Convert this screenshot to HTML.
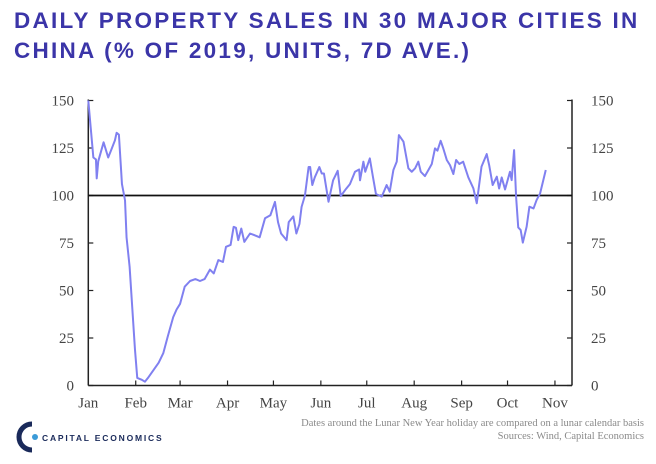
<!DOCTYPE html>
<html><head><meta charset="utf-8"><style>
body{margin:0;background:#fff;width:656px;height:464px;overflow:hidden;position:relative;font-family:"Liberation Sans",sans-serif}
#title{position:absolute;left:14px;top:6px;color:#3b35a8;font-weight:bold;font-size:22.5px;line-height:30px;letter-spacing:2.25px}
svg{position:absolute;left:0;top:0}
</style></head><body>
<div id="title">DAILY PROPERTY SALES IN 30 MAJOR CITIES IN<br>CHINA (% OF 2019, UNITS, 7D AVE.)</div>
<svg id="c" width="656" height="464"></svg>
<script>
const days=[0,3.3,5,5.5,6.5,10,13,15,17.4,18.5,20,22,24,25,27,30.5,32,35,37,39,42.5,46,49,52,55.5,57.7,60,63,66.5,70,73,76,79.5,82,85,88,90,93,95,96.5,98,100,102,105.7,109,112,115.5,119,122,124,126,129.6,131,134,136,138,139.4,141.6,144,145,146.4,148,151,152.6,154,157,160,163,165,168,171,174.3,177,177.6,179.8,181,184,186,188,191.8,195,197,199.4,201.6,203,206,209.2,211.4,213.6,215.7,217.3,220,222.3,224.5,226.6,228.2,230.3,232,234.3,236.4,238.6,240.4,242.5,245,248.4,251.7,253.9,257,260.4,262,264.3,267,268.5,270.2,272.4,275.6,276.7,278.3,279.6,281,282.6,284,286.5,288.3,291,293,295.3,299];
const values=[150,120,119,109,118,128,120,124,129,133,132,106,97.5,78,62.5,19,4,3,2,4,8,12,17,26,36,40,43,52,55,56,55,56,61,59,66,65,73,74,83.5,83,76.5,82.6,75.6,80,79,78,88,89.6,96.6,86,80,76.5,86,89,80,85,94,100,115,115,105.5,109.5,115,111.6,111.6,96.7,108,113,99.7,103,106,112.5,113.7,108,117.8,112.5,119.5,110,100.8,99.4,105.5,102,113.4,117.8,131.8,128.3,114.3,112.5,114.3,117.8,112.5,110.2,113.4,116.6,124.8,123.6,128.8,124.8,118.7,116,111.3,118.7,116.6,117.8,109.5,103.7,95.9,115.2,121.8,116,105.5,109.9,103.7,109.5,103.2,112.5,108.1,123.9,99.4,83.2,81.8,75.2,83.6,94.1,93.2,97.6,101.1,113.4];
const yTicks=[0,25,50,75,100,125,150];
const months=["Jan","Feb","Mar","Apr","May","Jun","Jul","Aug","Sep","Oct","Nov"];
const monthStart=[0,31,60,91,121,152,182,213,244,274,305];
const NS="http://www.w3.org/2000/svg",svg=document.getElementById('c');
const X0=88.3,XR=572,Y0=385.5,Y1=100.5;
const x=d=>X0+d*1.53, y=v=>Y0-(v/150)*(Y0-Y1);
function el(t,a,p){const e=document.createElementNS(NS,t);for(const k in a)e.setAttribute(k,a[k]);(p||svg).appendChild(e);return e;}
const sc="#222";
let a=el('line',{x1:X0,y1:Y1-1,x2:X0,y2:Y0,stroke:sc,'stroke-width':1.5});

a=el('line',{x1:XR,y1:Y1-1,x2:XR,y2:Y0,stroke:sc,'stroke-width':1.5});

a=el('line',{x1:X0,y1:Y0,x2:XR,y2:Y0,stroke:sc,'stroke-width':1.5});

yTicks.forEach(v=>{
  el('line',{x1:X0,x2:X0+5,y1:y(v),y2:y(v),stroke:sc,'stroke-width':1.2});
  el('line',{x1:XR-5,x2:XR,y1:y(v),y2:y(v),stroke:sc,'stroke-width':1.2});
  let t=el('text',{x:74,y:y(v)+5,'text-anchor':'end','font-family':'Liberation Serif,serif','font-size':15,fill:'#444'});t.textContent=v;
  
  t=el('text',{x:591,y:y(v)+5,'font-family':'Liberation Serif,serif','font-size':15,fill:'#444'});t.textContent=v;
  
});
months.forEach((m,i)=>{
  const px=x(monthStart[i]);
  if(i>0)el('line',{x1:px,x2:px,y1:Y0-5,y2:Y0,stroke:sc,'stroke-width':1.2});
  const t=el('text',{x:px,y:Y0+22,'text-anchor':'middle','font-family':'Liberation Serif,serif','font-size':15,fill:'#444'});t.textContent=m;
  
});
a=el('line',{x1:X0,x2:XR,y1:y(100),y2:y(100),stroke:'#111','stroke-width':1.8});

const line=el('polyline',{points:days.map((d,i)=>x(d)+','+y(values[i])).join(' '),fill:'none',stroke:'#8080f0','stroke-width':2,'stroke-linejoin':'round'});

</script>
<svg width="160" height="40" style="left:14px;top:418px">
<path d="M18 6 A13 13 0 1 0 18 32" fill="none" stroke="#1a2a5a" stroke-width="5"/>
<circle cx="21" cy="19" r="3" fill="#3b9bd8"/>
<text x="28" y="23" font-family="Liberation Sans,sans-serif" font-size="8.5" font-weight="bold" fill="#1a2a5a" letter-spacing="1.8">CAPITAL ECONOMICS</text>
</svg>
<div style="position:absolute;right:12px;top:417px;text-align:right;font-family:'Liberation Serif',serif;font-size:10.5px;color:#8a8a8a;line-height:13px">Dates around the Lunar New Year holiday are compared on a lunar calendar basis<br>Sources: Wind, Capital Economics</div>
</body></html>
